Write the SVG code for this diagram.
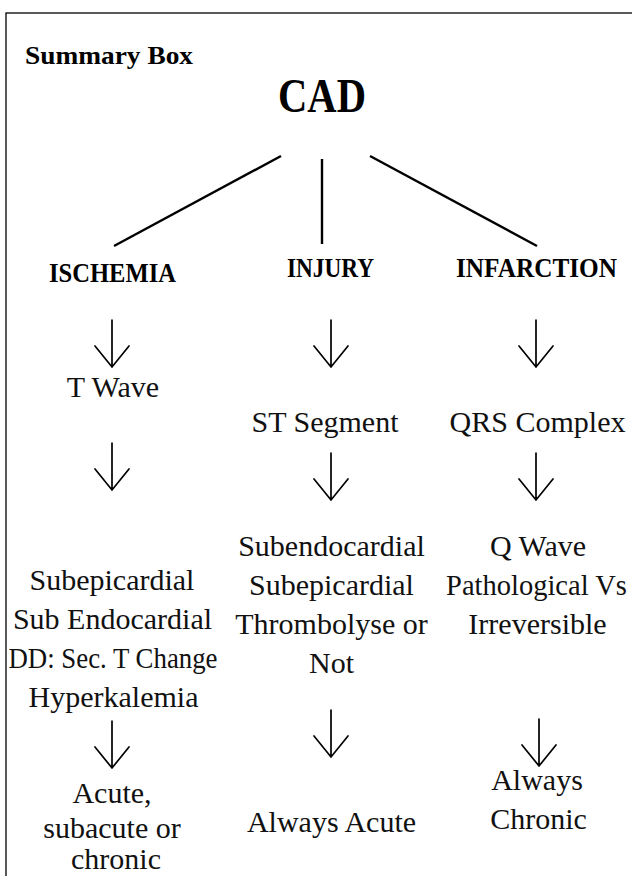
<svg xmlns="http://www.w3.org/2000/svg" width="632" height="876" viewBox="0 0 632 876">
  <defs>
    <style>
      .frame { fill: none; stroke: #000; stroke-width: 1.3; }
      .title { font-family: "Liberation Serif", "DejaVu Serif", serif; font-weight: bold; fill: #000; }
      .head { font-family: "Liberation Serif", "DejaVu Serif", serif; font-weight: bold; font-size: 27px; fill: #000; text-anchor: middle; }
      .body { font-family: "Liberation Serif", "DejaVu Serif", serif; font-size: 30px; fill: #111; text-anchor: middle; }
      .body.narrow { font-size: 28.5px; }
      .edge { stroke: #000; stroke-width: 2.4; fill: none; }
      .arrow { stroke: #000; stroke-width: 1.7; fill: none; stroke-linecap: round; stroke-linejoin: miter; }
    </style>
    <!-- open V-shaped arrow, origin at the tip -->
    <path id="down" d="M0,-47 V0 M-17,-21 L0,0 L17,-21"/>
  </defs>

  <rect class="frame" x="6" y="13" width="640" height="880"/>

  <text class="title" x="25" y="64" font-size="25" textLength="168" lengthAdjust="spacingAndGlyphs">Summary Box</text>

  <g id="cad">
    <text class="title" x="322" y="112" font-size="48" text-anchor="middle" textLength="88" lengthAdjust="spacingAndGlyphs">CAD</text>
  </g>

  <g id="connectors">
    <line class="edge" x1="281" y1="156" x2="114" y2="246"/>
    <line class="edge" x1="322" y1="159" x2="322" y2="244"/>
    <line class="edge" x1="370" y1="156" x2="537" y2="246"/>
    <use class="arrow" href="#down" x="112" y="367"/>
    <use class="arrow" href="#down" x="331" y="367"/>
    <use class="arrow" href="#down" x="536" y="367"/>
    <use class="arrow" href="#down" x="112" y="490"/>
    <use class="arrow" href="#down" x="331" y="500"/>
    <use class="arrow" href="#down" x="536" y="500"/>
    <use class="arrow" href="#down" x="112" y="768"/>
    <use class="arrow" href="#down" x="331" y="757"/>
    <use class="arrow" href="#down" x="539" y="766"/>
  </g>

  <g id="ischemia">
    <text class="head" x="112.5" y="282" textLength="127" lengthAdjust="spacingAndGlyphs">ISCHEMIA</text>
  </g>
  <g id="injury">
    <text class="head" x="330.5" y="277" textLength="87" lengthAdjust="spacingAndGlyphs">INJURY</text>
  </g>
  <g id="infarction">
    <text class="head" x="536.5" y="277" textLength="161" lengthAdjust="spacingAndGlyphs">INFARCTION</text>
  </g>

  <g id="t-wave">
    <text class="body" x="113" y="397">T Wave</text>
  </g>
  <g id="st-segment">
    <text class="body" x="325" y="432">ST Segment</text>
  </g>
  <g id="qrs-complex">
    <text class="body" x="537.5" y="432" textLength="176" lengthAdjust="spacingAndGlyphs">QRS Complex</text>
  </g>

  <g id="ischemia-types">
    <text class="body" x="112" y="590">Subepicardial</text>
    <text class="body" x="112.5" y="629">Sub Endocardial</text>
    <text class="body" x="113" y="668" textLength="209" lengthAdjust="spacingAndGlyphs">DD: Sec. T Change</text>
    <text class="body" x="113.5" y="707">Hyperkalemia</text>
  </g>
  <g id="injury-types">
    <text class="body" x="331.5" y="556">Subendocardial</text>
    <text class="body" x="331.5" y="595">Subepicardial</text>
    <text class="body" x="331.5" y="634">Thrombolyse or</text>
    <text class="body" x="331.5" y="673">Not</text>
  </g>
  <g id="infarction-types">
    <text class="body" x="538" y="556">Q Wave</text>
    <text class="body narrow" x="536.5" y="595">Pathological Vs</text>
    <text class="body" x="537.5" y="634">Irreversible</text>
  </g>

  <g id="ischemia-course">
    <text class="body" x="112" y="803">Acute,</text>
    <text class="body" x="112" y="838">subacute or</text>
    <text class="body" x="116" y="869">chronic</text>
  </g>
  <g id="injury-course">
    <text class="body" x="331.5" y="832">Always Acute</text>
  </g>
  <g id="infarction-course">
    <text class="body" x="537" y="790">Always</text>
    <text class="body" x="538.5" y="829">Chronic</text>
  </g>
</svg>
